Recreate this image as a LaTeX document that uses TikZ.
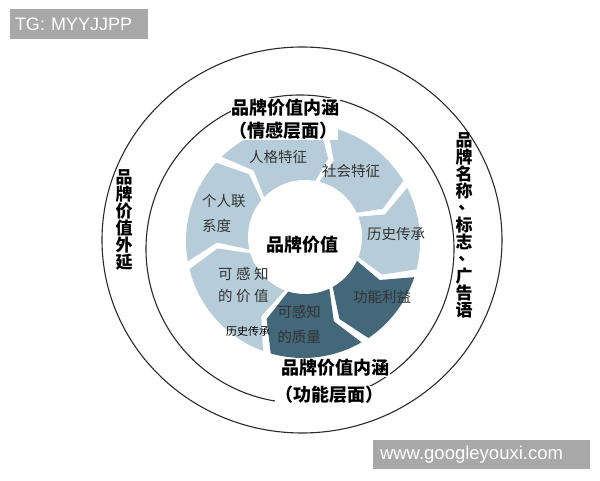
\documentclass[tikz,border=0pt]{standalone}
\usepackage{fontspec}
\setmainfont{Noto Sans CJK SC}
\newfontfamily\libsans{Liberation Sans}
\definecolor{segl}{HTML}{B6CDD9}
\definecolor{segd}{HTML}{42687A}
\definecolor{labc}{HTML}{333333}
\definecolor{wmgray}{HTML}{A8A8A8}
\definecolor{linec}{HTML}{2A2A2A}
\newcommand\ringseg[3]{\fill[#3] (#1-2:117pt) arc[start angle=#1-2, end angle=#2+2, radius=117pt] -- (#2+2-9:86pt) -- (#2+2:52pt) arc[start angle=#2+2, end angle=#1-2, radius=52pt] -- (#1-2-9:86pt) -- cycle;}
\newcommand\vcomma{\makebox[1em][c]{\raisebox{0.25em}{\hspace*{0.35em}、}}}
\begin{document}
\begin{tikzpicture}[x=1pt,y=1pt,
  lab/.style={font=\fontsize{14.5}{16}\selectfont, text=labc, inner sep=0pt},
  ttl/.style={font=\fontsize{18}{20}\selectfont\bfseries, text=black, inner sep=0.5pt, fill=white},
  vert/.style={font=\fontsize{17}{17}\selectfont\bfseries, text=black, align=center, inner sep=0pt},
  wm/.style={fill=wmgray, text=white, font=\libsans\fontsize{18}{20}\selectfont, align=left, inner ysep=0pt},
  ring/.style={draw=linec, line width=1.1pt}]
\useasboundingbox (0,0) rectangle (600,480);
\fill[white] (0,0) rectangle (600,480);
% circles
\draw[ring] (302,240) ellipse [x radius=200pt, y radius=193pt];
\draw[ring] (300,231) circle [radius=154pt];
% segmented ring
\begin{scope}[shift={(303,239)}]
\ringseg{136}{80}{segl}
\ringseg{80}{29}{segl}
\ringseg{29}{-16}{segl}
\ringseg{-16}{-58}{segd}
\ringseg{-58}{-108}{segd}
\ringseg{-108}{-168}{segl}
\ringseg{-168}{-224}{segl}
\end{scope}
\fill[white] (305,243) circle [radius=57pt];
% centre
\node[font=\fontsize{18}{20}\selectfont\bfseries] (core) at (302,235) {品牌价值};
% segment labels
\node[lab] (s1) at (278,323) {人格特征};
\node[lab] (s2) at (351,309) {社会特征};
\node[lab] (s3) at (396,246) {历史传承};
\node[lab] (s4) at (382,183) {功能利益};
\node[lab, anchor=west] (s7a) at (202,279) {个人联};
\node[lab, anchor=west] (s7b) at (202,254) {系度};
\node[lab, anchor=west] (s6a) at (218,206.5) {可\kern3.5pt 感\kern3.5pt 知};
\node[lab, anchor=west] (s6b) at (218,183.5) {的\kern3.5pt 价\kern3.5pt 值};
\node[lab] (s5a) at (299,168.5) {可感知};
\node[lab] (s5b) at (299,143.5) {的质量};
\node[font=\fontsize{11}{12}\selectfont, text=black, inner sep=0pt] (hist) at (248,149) {历史传承};
% titles
\node[ttl] (t1) at (285,372.5) {品牌价值内涵};
\node[ttl] (t1b) at (283,349.5) {（情感层面）};
\node[ttl] (t2) at (335,112) {品牌价值内涵};
\node[ttl] (t2b) at (329,85) {（功能层面）};
% vertical labels
\node[vert] (lv) at (124,260) {品\\牌\\价\\值\\外\\延};
\node[vert] (rv) at (464,255) {品\\牌\\名\\称\\\vcomma\\标\\志\\\vcomma\\广\\告\\语};
% watermarks
\node[wm, minimum height=30pt, text width=128pt, inner xsep=5pt] (tg) at (79,456) {TG: MYYJJPP};
\node[wm, minimum height=29pt, text width=203pt, inner xsep=7pt, font=\libsans\fontsize{18.5}{20}\selectfont] (www) at (481.5,25.5) {www.googleyouxi.com};
\end{tikzpicture}
\end{document}
